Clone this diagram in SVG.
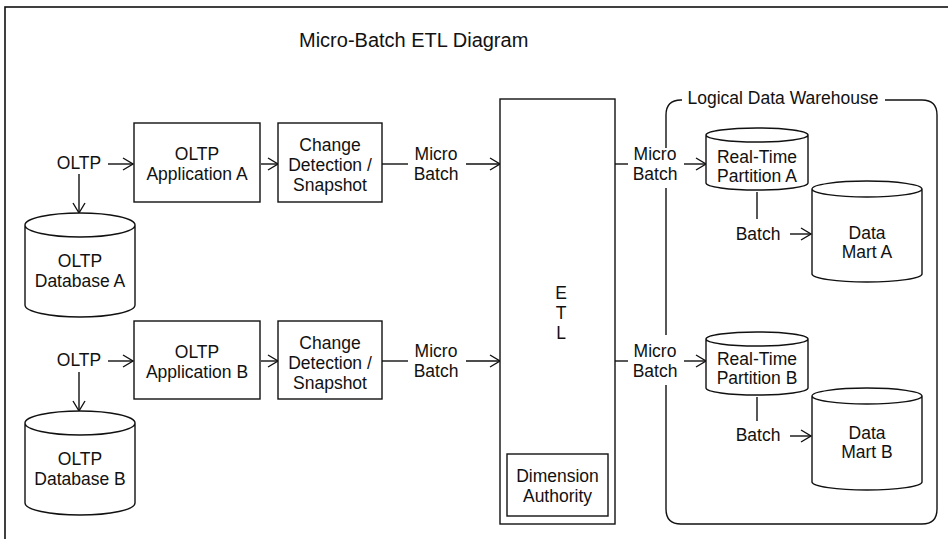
<svg xmlns="http://www.w3.org/2000/svg" width="948" height="539" viewBox="0 0 948 539">
<style>
text{font-family:"Liberation Sans",Arial,sans-serif;font-size:17.5px;fill:#111;text-anchor:middle}
.title{font-size:20px;text-anchor:start}
.box{fill:#fff;stroke:#111;stroke-width:1.4}
.ln{fill:none;stroke:#111;stroke-width:1.4}
</style>
<defs>
<marker id="arr" markerUnits="userSpaceOnUse" markerWidth="14" markerHeight="16" refX="11" refY="7" orient="auto">
<path d="M1,1 L11,7 L1,13" fill="none" stroke="#111" stroke-width="1.4"/>
</marker>
</defs>
<rect x="5" y="7" width="1000" height="600" fill="none" stroke="#111" stroke-width="1.6"/>
<text class="title" x="299" y="47">Micro-Batch ETL Diagram</text>

<g id="ldw">
<path class="ln" d="M682,100 L681,100 Q666,100 666,115 L666,148 M666,188 L666,335 M666,385 L666,509 Q666,524 681,524 L922,524 Q937,524 937,509 L937,115 Q937,100 922,100 L885,100"/>
<text x="783" y="104">Logical Data Warehouse</text>
</g>

<g id="connectors">
<text x="79" y="169">OLTP</text>
<line class="ln" x1="108" y1="164" x2="133" y2="164" marker-end="url(#arr)"/>
<line class="ln" x1="79" y1="174" x2="79" y2="213" marker-end="url(#arr)"/>
<line class="ln" x1="261" y1="164" x2="278" y2="164" marker-end="url(#arr)"/>
<line class="ln" x1="382" y1="164" x2="408" y2="164"/>
<text x="436" y="160">Micro</text><text x="436" y="180">Batch</text>
<line class="ln" x1="466" y1="164" x2="500" y2="164" marker-end="url(#arr)"/>
<line class="ln" x1="615" y1="164" x2="628" y2="164"/>
<text x="655" y="160">Micro</text><text x="655" y="180">Batch</text>
<line class="ln" x1="684" y1="164" x2="706" y2="164" marker-end="url(#arr)"/>
<line class="ln" x1="757" y1="192" x2="757" y2="219"/>
<text x="758" y="240">Batch</text>
<line class="ln" x1="790" y1="234" x2="811" y2="234" marker-end="url(#arr)"/>

<text x="79" y="366">OLTP</text>
<line class="ln" x1="108" y1="361" x2="133" y2="361" marker-end="url(#arr)"/>
<line class="ln" x1="79" y1="372" x2="79" y2="411" marker-end="url(#arr)"/>
<line class="ln" x1="261" y1="361" x2="278" y2="361" marker-end="url(#arr)"/>
<line class="ln" x1="382" y1="361" x2="408" y2="361"/>
<text x="436" y="357">Micro</text><text x="436" y="377">Batch</text>
<line class="ln" x1="466" y1="361" x2="500" y2="361" marker-end="url(#arr)"/>
<line class="ln" x1="615" y1="361" x2="628" y2="361"/>
<text x="655" y="357">Micro</text><text x="655" y="377">Batch</text>
<line class="ln" x1="684" y1="361" x2="706" y2="361" marker-end="url(#arr)"/>
<line class="ln" x1="757" y1="397" x2="757" y2="421"/>
<text x="758" y="441">Batch</text>
<line class="ln" x1="790" y1="436" x2="811" y2="436" marker-end="url(#arr)"/>
</g>

<g id="appA">
<rect class="box" x="134" y="123" width="126" height="79"/>
<text x="197" y="160">OLTP</text><text x="197" y="180">Application A</text>
</g>
<g id="cdA">
<rect class="box" x="278" y="123" width="104" height="79"/>
<text x="330" y="151">Change</text><text x="330" y="171">Detection /</text><text x="330" y="191">Snapshot</text>
</g>
<g id="dbA">
<path class="box" d="M25,225 L25,305 A55,12 0 0 0 135,305 L135,225 A55,12 0 0 0 25,225 A55,12 0 0 0 135,225"/>
<text x="80" y="267">OLTP</text><text x="80" y="287">Database A</text>
</g>

<g id="appB">
<rect class="box" x="134" y="321" width="126" height="78"/>
<text x="197" y="358">OLTP</text><text x="197" y="378">Application B</text>
</g>
<g id="cdB">
<rect class="box" x="278" y="321" width="104" height="78"/>
<text x="330" y="349">Change</text><text x="330" y="369">Detection /</text><text x="330" y="389">Snapshot</text>
</g>
<g id="dbB">
<path class="box" d="M25,423 L25,503 A55,12 0 0 0 135,503 L135,423 A55,12 0 0 0 25,423 A55,12 0 0 0 135,423"/>
<text x="80" y="465">OLTP</text><text x="80" y="485">Database B</text>
</g>

<g id="etl">
<rect class="box" x="500" y="99" width="115" height="425"/>
<text x="561" y="299">E</text><text x="561" y="319">T</text><text x="561" y="339">L</text>
</g>
<g id="dimAuth">
<rect class="box" x="507" y="454" width="101" height="62"/>
<text x="557.5" y="482">Dimension</text><text x="557.5" y="502">Authority</text>
</g>

<g id="rtA">
<path class="box" d="M706,135 L706,183 A51,7 0 0 0 808,183 L808,135 A51,7 0 0 0 706,135 A51,7 0 0 0 808,135"/>
<text x="757" y="163">Real-Time</text><text x="757" y="182">Partition A</text>
</g>
<g id="dmA">
<path class="box" d="M812,189 L812,274 A55,8 0 0 0 922,274 L922,189 A55,8 0 0 0 812,189 A55,8 0 0 0 922,189"/>
<text x="867" y="239">Data</text><text x="867" y="258">Mart A</text>
</g>
<g id="rtB">
<path class="box" d="M706,339 L706,388 A51,7 0 0 0 808,388 L808,339 A51,7 0 0 0 706,339 A51,7 0 0 0 808,339"/>
<text x="757" y="365">Real-Time</text><text x="757" y="384">Partition B</text>
</g>
<g id="dmB">
<path class="box" d="M812,396 L812,482 A55,8 0 0 0 922,482 L922,396 A55,8 0 0 0 812,396 A55,8 0 0 0 922,396"/>
<text x="867" y="439">Data</text><text x="867" y="458">Mart B</text>
</g>
</svg>
